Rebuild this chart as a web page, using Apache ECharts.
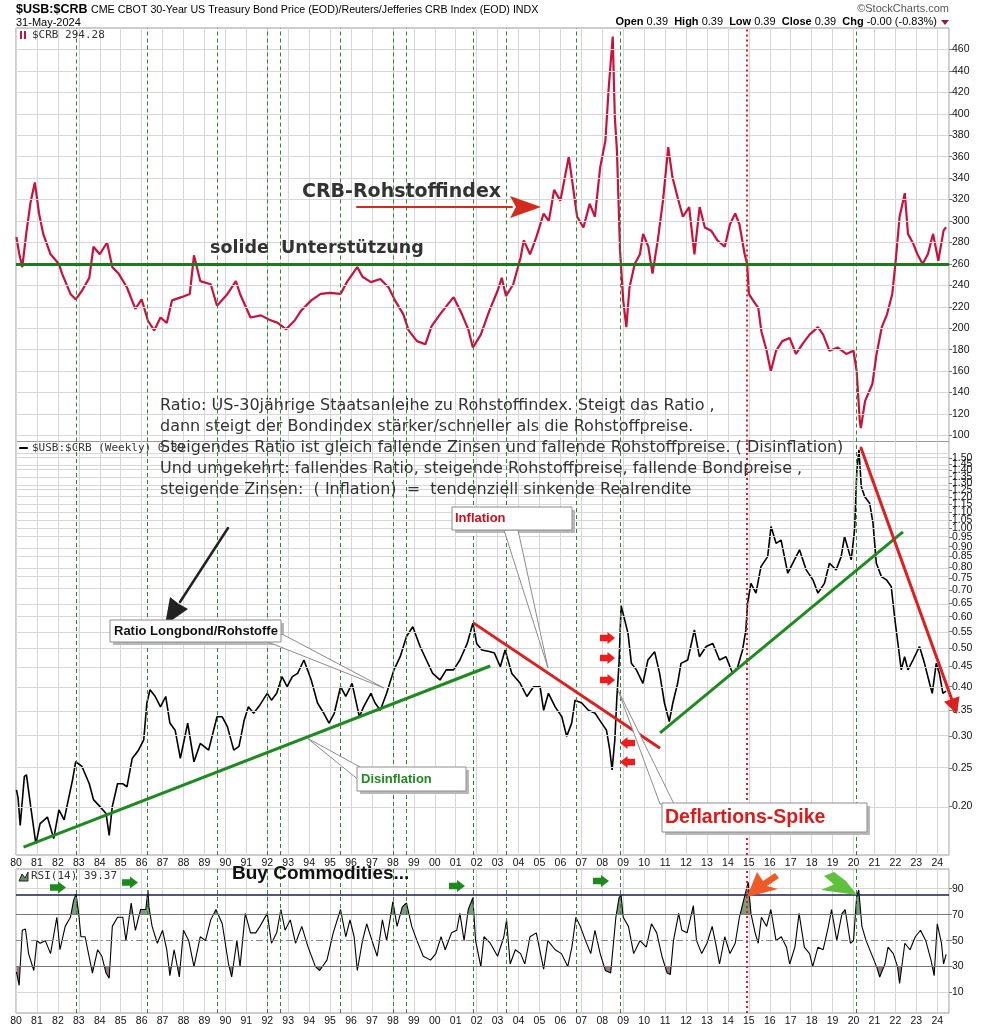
<!DOCTYPE html>
<html>
<head>
<meta charset="utf-8">
<script src="https://cdn.jsdelivr.net/npm/echarts@6/dist/echarts.min.js"></script>
<style>
html, body { margin: 0; padding: 0; background: #fff; }
#chart { width: 990px; height: 1029px; }
</style>
</head>
<body>
<div id="chart"></div>
<script>
// CRB index [year, value]
const crbPoints = [
  [1980.02,285],[1980.15,270],[1980.3,257],[1980.5,290],[1980.7,318],[1980.9,336],[1981.1,307],[1981.3,288],
  [1981.65,269],[1982.05,260],[1982.2,251],[1982.6,232],[1982.85,227],[1983.15,235],[1983.5,247],[1983.7,276],
  [1984.0,269],[1984.35,280],[1984.6,257],[1984.9,251],[1985.3,238],[1985.7,218],[1986.0,227],[1986.3,207],
  [1986.6,198],[1986.9,210],[1987.2,205],[1987.45,226],[1987.9,229],[1988.3,232],[1988.5,268],[1988.8,244],
  [1989.3,241],[1989.6,221],[1990.1,232],[1990.5,244],[1990.7,232],[1991.2,210],[1991.7,212],[1992.1,208],
  [1992.5,205],[1992.9,199],[1993.3,207],[1993.6,216],[1994.1,226],[1994.55,232],[1995.0,233],[1995.5,232],
  [1995.8,243],[1996.3,257],[1996.55,248],[1996.95,243],[1997.4,246],[1997.8,238],[1998.1,226],[1998.5,213],
  [1998.75,198],[1999.15,188],[1999.55,185],[1999.85,202],[2000.25,213],[2000.65,223],[2000.9,229],[2001.3,213],
  [2001.6,199],[2001.82,182],[2002.2,194],[2002.6,216],[2003.0,235],[2003.2,247],[2003.4,230],[2003.75,241],
  [2004.1,266],[2004.25,282],[2004.55,269],[2004.85,285],[2005.2,307],[2005.45,300],[2005.7,329],[2006.0,319],
  [2006.4,360],[2006.6,332],[2006.8,304],[2007.1,294],[2007.4,316],[2007.65,304],[2007.9,350],[2008.15,375],
  [2008.3,422],[2008.5,472],[2008.6,397],[2008.7,366],[2008.85,272],[2009.0,226],[2009.15,201],[2009.3,238],
  [2009.55,260],[2009.8,269],[2009.95,288],[2010.2,276],[2010.4,251],[2010.65,282],[2010.9,319],[2011.15,369],
  [2011.35,341],[2011.6,322],[2011.85,304],[2012.15,313],[2012.4,269],[2012.65,313],[2012.9,294],[2013.2,291],
  [2013.5,282],[2013.85,276],[2014.1,297],[2014.35,307],[2014.55,297],[2014.8,269],[2014.92,260],[2015.0,232],
  [2015.2,226],[2015.45,219],[2015.6,197],[2015.85,179],[2016.05,160],[2016.3,179],[2016.6,188],[2016.95,191],
  [2017.25,176],[2017.55,185],[2017.9,194],[2018.3,201],[2018.55,194],[2018.85,179],[2019.25,182],[2019.65,176],
  [2020.0,179],[2020.15,160],[2020.3,113],[2020.35,107],[2020.55,132],[2020.9,148],[2021.1,176],[2021.35,201],
  [2021.6,213],[2021.85,232],[2022.0,260],[2022.2,304],[2022.45,326],[2022.6,288],[2022.85,279],[2023.05,269],
  [2023.3,260],[2023.55,269],[2023.8,288],[2024.05,263],[2024.3,291],[2024.42,294.28]
];

// $USB:$CRB ratio, weekly close [year, ratio]
const ratioPoints = [
  [1980.02,0.22],[1980.1,0.21],[1980.2,0.179],[1980.4,0.238],[1980.5,0.24],[1980.7,0.2],[1980.95,0.161],
  [1981.15,0.181],[1981.5,0.188],[1981.8,0.166],[1982.05,0.196],[1982.3,0.185],[1982.5,0.208],[1982.7,0.233],
  [1982.85,0.259],[1983.15,0.252],[1983.5,0.228],[1983.7,0.208],[1984.0,0.2],[1984.3,0.192],[1984.45,0.169],
  [1984.6,0.2],[1984.85,0.228],[1985.1,0.228],[1985.3,0.224],[1985.55,0.264],[1985.85,0.277],[1986.1,0.294],
  [1986.25,0.364],[1986.4,0.393],[1986.65,0.378],[1986.9,0.356],[1987.15,0.378],[1987.35,0.324],[1987.6,0.311],
  [1987.85,0.264],[1988.2,0.324],[1988.5,0.259],[1988.8,0.288],[1989.2,0.277],[1989.6,0.336],[1989.85,0.336],
  [1990.1,0.317],[1990.4,0.277],[1990.65,0.283],[1990.9,0.33],[1991.1,0.356],[1991.35,0.343],[1991.65,0.36],
  [1992.0,0.385],[1992.2,0.37],[1992.45,0.385],[1992.7,0.424],[1992.95,0.4],[1993.2,0.424],[1993.45,0.432],
  [1993.75,0.467],[1994.1,0.416],[1994.4,0.364],[1994.7,0.343],[1994.95,0.324],[1995.2,0.343],[1995.5,0.4],
  [1995.75,0.378],[1996.05,0.408],[1996.4,0.336],[1996.6,0.356],[1996.95,0.385],[1997.15,0.364],[1997.4,0.349],
  [1997.7,0.385],[1998.05,0.441],[1998.35,0.476],[1998.65,0.535],[1998.95,0.566],[1999.3,0.505],[1999.6,0.467],
  [1999.9,0.432],[2000.25,0.416],[2000.55,0.441],[2000.9,0.441],[2001.2,0.467],[2001.55,0.514],[2001.82,0.578],
  [2002.0,0.514],[2002.25,0.495],[2002.65,0.49],[2002.85,0.486],[2003.13,0.449],[2003.36,0.495],[2003.68,0.432],
  [2004.08,0.408],[2004.4,0.378],[2004.72,0.4],[2005.03,0.4],[2005.2,0.349],[2005.43,0.385],[2005.75,0.356],
  [2006.07,0.336],[2006.3,0.3],[2006.54,0.324],[2006.7,0.37],[2007.02,0.364],[2007.34,0.349],[2007.66,0.343],
  [2007.97,0.324],[2008.2,0.311],[2008.36,0.277],[2008.47,0.247],[2008.6,0.294],[2008.7,0.378],[2008.8,0.458],
  [2008.9,0.64],[2009.07,0.589],[2009.23,0.545],[2009.39,0.458],[2009.63,0.441],[2009.94,0.408],[2010.18,0.467],
  [2010.5,0.49],[2010.74,0.432],[2010.97,0.364],[2011.2,0.327],[2011.37,0.364],[2011.6,0.408],[2011.76,0.458],
  [2012.08,0.467],[2012.4,0.556],[2012.64,0.476],[2012.96,0.505],[2013.28,0.514],[2013.6,0.467],[2013.91,0.476],
  [2014.23,0.432],[2014.47,0.449],[2014.7,0.495],[2014.86,0.556],[2014.94,0.649],[2015.1,0.728],[2015.34,0.688],
  [2015.58,0.802],[2015.9,0.85],[2016.06,1.012],[2016.3,0.918],[2016.54,0.935],[2016.86,0.772],[2017.1,0.818],
  [2017.42,0.884],[2017.74,0.787],[2018.06,0.743],[2018.3,0.688],[2018.61,0.728],[2018.85,0.818],[2019.17,0.787],
  [2019.41,0.85],[2019.57,0.955],[2019.89,0.834],[2020.05,0.992],[2020.16,1.405],[2020.26,1.578],[2020.37,1.276],
  [2020.53,1.204],[2020.77,1.158],[2020.93,1.032],[2021.09,0.818],[2021.33,0.757],[2021.57,0.743],[2021.8,0.715],
  [2021.96,0.6],[2022.12,0.514],[2022.28,0.441],[2022.44,0.476],[2022.6,0.441],[2022.84,0.467],[2023.15,0.505],
  [2023.39,0.458],[2023.63,0.408],[2023.76,0.385],[2023.95,0.458],[2024.1,0.432],[2024.27,0.385],[2024.42,0.39]
];

// RSI(14) of the ratio [year, rsi]
const rsiPoints = [
  [1980.02,26],[1980.15,15.6],[1980.3,58],[1980.45,59],[1980.6,40],[1980.85,27],[1981.0,50],[1981.15,48],
  [1981.4,50],[1981.65,40],[1981.95,68],[1982.1,43],[1982.35,61],[1982.6,68],[1982.75,81],[1982.87,86],
  [1983.0,70],[1983.1,53],[1983.3,53],[1983.65,25],[1983.9,43],[1984.1,38],[1984.3,25],[1984.45,21],
  [1984.6,61],[1984.85,68],[1985.1,68],[1985.25,50],[1985.5,79],[1985.7,58],[1985.95,74],[1986.2,74],
  [1986.3,89],[1986.35,76],[1986.5,61],[1986.75,48],[1987.0,58],[1987.2,43],[1987.35,23],[1987.55,43],
  [1987.8,22],[1988.0,58],[1988.25,50],[1988.5,30],[1988.8,53],[1989.05,50],[1989.3,66],[1989.55,74],
  [1989.85,63],[1990.15,32],[1990.3,22],[1990.55,50],[1990.7,30],[1990.95,71],[1991.2,56],[1991.45,56],
  [1991.65,61],[1992.0,71],[1992.2,48],[1992.45,56],[1992.65,74],[1992.85,58],[1993.1,66],[1993.35,48],
  [1993.65,61],[1993.95,45],[1994.3,30],[1994.5,27],[1994.85,35],[1995.15,56],[1995.5,74],[1995.75,53],
  [1995.95,66],[1996.15,53],[1996.3,27],[1996.55,50],[1996.75,63],[1997.0,50],[1997.25,38],[1997.5,66],
  [1997.7,50],[1998.0,80],[1998.2,61],[1998.45,76],[1998.65,79],[1998.9,61],[1999.15,50],[1999.45,38],
  [1999.8,35],[2000.05,40],[2000.3,53],[2000.5,43],[2000.8,56],[2001.05,58],[2001.2,71],[2001.4,50],
  [2001.6,74],[2001.82,83],[2001.95,50],[2002.2,30],[2002.35,53],[2002.65,48],[2003.0,38],[2003.3,53],
  [2003.43,66],[2003.6,32],[2003.85,43],[2004.1,40],[2004.3,32],[2004.55,53],[2004.85,56],[2005.2,28],
  [2005.4,50],[2005.75,43],[2006.05,40],[2006.35,30],[2006.55,45],[2006.74,68],[2006.95,61],[2007.2,50],
  [2007.45,40],[2007.65,58],[2007.9,40],[2008.15,27],[2008.4,25],[2008.65,68],[2008.8,83],[2008.9,85],
  [2009.0,68],[2009.25,61],[2009.5,40],[2009.8,50],[2010.1,45],[2010.35,63],[2010.6,56],[2010.85,38],
  [2011.1,25],[2011.25,24],[2011.4,50],[2011.65,71],[2011.8,58],[2012.05,56],[2012.35,77],[2012.5,50],
  [2012.75,40],[2013.0,48],[2013.25,61],[2013.45,45],[2013.6,32],[2013.85,53],[2014.1,40],[2014.35,48],
  [2014.55,68],[2014.75,81],[2014.97,95],[2015.1,71],[2015.3,56],[2015.45,48],[2015.6,68],[2015.85,61],
  [2016.05,74],[2016.3,50],[2016.55,53],[2016.8,45],[2016.95,32],[2017.2,45],[2017.4,71],[2017.65,45],
  [2017.9,40],[2018.05,30],[2018.3,45],[2018.55,43],[2018.8,61],[2018.95,74],[2019.2,50],[2019.45,71],
  [2019.6,74],[2019.85,48],[2020.0,50],[2020.15,84],[2020.25,89],[2020.4,61],[2020.6,50],[2020.85,40],
  [2021.1,30],[2021.25,22],[2021.5,32],[2021.65,45],[2021.9,40],[2022.1,30],[2022.2,17],[2022.45,48],
  [2022.7,43],[2022.95,53],[2023.2,58],[2023.45,50],[2023.7,35],[2023.85,23],[2024.0,63],[2024.2,48],
  [2024.3,32],[2024.42,39.37]
];

const crbTicks = [100,120,140,160,180,200,220,240,260,280,300,320,340,360,380,400,420,440,460];
const ratioTicks = [0.20,0.25,0.30,0.35,0.40,0.45,0.50,0.55,0.60,0.65,0.70,0.75,0.80,0.85,0.90,0.95,
  1.00,1.05,1.10,1.15,1.20,1.25,1.30,1.35,1.40,1.45,1.50,1.55];
const rsiTicks = [10,30,50,70,90];
const signalYears = [1982.87,1986.29,1989.6,1992.02,1992.64,1995.5,1998.0,1998.65,2001.82,2003.43,2006.74,2008.87,2020.14];
const turnYear = 2014.92;

var myChart = echarts.init(document.getElementById('chart'));

var FONT = '"Liberation Sans", Arial, sans-serif';
var DEJA = '"DejaVu Sans", sans-serif';
var gridColor = '#d6d6d6';
var lg = function(v) { return Math.log10(v); };

function xAxisFor(idx, showLabels) {
    return {
        type: 'value', gridIndex: idx, min: 1980, max: 2024.56, interval: 1,
        axisLine: { show: false }, axisTick: { show: false },
        axisLabel: {
            show: showLabels, margin: 3, fontSize: 10.5, color: '#111', fontFamily: FONT,
            showMaxLabel: false,
            formatter: function(v) { return Number.isInteger(v) ? String(v % 100).padStart(2, '0') : ''; }
        },
        splitLine: { show: true, lineStyle: { color: gridColor, width: 1 } }
    };
}

function yAxisFor(idx, min, max, ticks, fmt) {
    return {
        type: 'value', gridIndex: idx, position: 'right', min: min, max: max,
        axisLine: { show: false },
        splitLine: { show: false },
        axisTick: { show: true, customValues: ticks, length: 3, lineStyle: { color: '#777' } },
        axisLabel: { customValues: ticks, margin: 3, fontSize: 10.5, color: '#111', fontFamily: FONT, formatter: fmt }
    };
}

function vLines(years, style) {
    return years.map(function(y) { return { xAxis: y, lineStyle: style }; });
}
function hLines(vals, style) {
    return vals.map(function(v) { return { yAxis: v, lineStyle: style }; });
}

var greenDash = { color: '#2a8a2a', type: [4, 3], width: 1 };
var redDot = { color: '#e02020', type: [2, 3], width: 2 };
var light = { color: gridColor, type: 'solid', width: 1 };

function backdrop(idx, horiz) {
    return {
        type: 'line', xAxisIndex: idx, yAxisIndex: idx, data: [], z: 1, silent: true,
        markLine: {
            silent: true, symbol: 'none', label: { show: false }, animation: false,
            data: horiz.concat(vLines(signalYears, greenDash), vLines([turnYear], redDot))
        }
    };
}

// shaded zones of the RSI beyond a level (above 70 / below 30)
function rsiBand(level, above, color) {
    return {
        type: 'custom', xAxisIndex: 2, yAxisIndex: 2, data: rsiPoints, z: 2, silent: true, clip: true,
        renderItem: function(params, api) {
            if (params.dataIndex !== 0) return null;
            var shapes = [], cur = null, prevIn = false;
            for (var i = 0; i < rsiPoints.length; i++) {
                var p = rsiPoints[i];
                var inside = above ? p[1] > level : p[1] < level;
                if (i > 0 && inside !== prevIn) {
                    var q = rsiPoints[i - 1];
                    var t = q[0] + (p[0] - q[0]) * (level - q[1]) / (p[1] - q[1]);
                    var c = api.coord([t, level]);
                    if (prevIn) { cur.push(c); shapes.push(cur); cur = null; }
                    else { cur = [c]; }
                }
                if (inside) {
                    if (!cur) cur = [api.coord([p[0], level])];
                    cur.push(api.coord(p));
                }
                prevIn = inside;
            }
            if (cur) { cur.push(api.coord([rsiPoints[rsiPoints.length - 1][0], level])); shapes.push(cur); }
            return {
                type: 'group',
                children: shapes.map(function(pts) {
                    return { type: 'polygon', shape: { points: pts }, style: { fill: color } };
                })
            };
        }
    };
}

option = {
    backgroundColor: '#fff',
    animation: false,
    grid: [
        { left: 16, right: 41, top: 28, height: 413.5, show: true, borderColor: '#9a9a9a', borderWidth: 1 },
        { left: 16, right: 41, top: 441.5, height: 413.5, show: true, borderColor: '#9a9a9a', borderWidth: 1 },
        { left: 16, right: 41, top: 869, height: 144, show: true, borderColor: '#9a9a9a', borderWidth: 1 }
    ],
    xAxis: [ xAxisFor(0, false), xAxisFor(1, true), xAxisFor(2, true) ],
    yAxis: [
        yAxisFor(0, 94.4, 480, crbTicks),
        yAxisFor(1, -0.8213, 0.219, ratioTicks.map(lg), function(v) { return Math.pow(10, v).toFixed(2); }),
        yAxisFor(2, -5.75, 105.2, rsiTicks)
    ],
    series: [
        backdrop(0, hLines(crbTicks, light)),
        {
            name: '$CRB', type: 'line', xAxisIndex: 0, yAxisIndex: 0, data: crbPoints,
            showSymbol: false, symbol: 'none', z: 3,
            lineStyle: { color: '#c8123c', width: 2.2 },
            markLine: {
                silent: true, symbol: 'none', label: { show: false },
                data: [{ yAxis: 260, lineStyle: { color: '#1f7a1f', width: 3, type: 'solid' } }]
            }
        },
        backdrop(1, hLines(ratioTicks.map(lg), light)),
        {
            name: '$USB:$CRB', type: 'line', xAxisIndex: 1, yAxisIndex: 1,
            data: ratioPoints.map(function(p) { return [p[0], lg(p[1])]; }),
            showSymbol: false, symbol: 'none', z: 3,
            lineStyle: { color: '#000', width: 1.6 },
            markLine: {
                silent: true, symbol: 'none', label: { show: false },
                data: [
                    [{ coord: [1980.36, lg(0.158)], lineStyle: { color: '#1f8a1f', width: 3, type: 'solid' } }, { coord: [2002.65, lg(0.451)] }],
                    [{ coord: [2001.84, lg(0.579)], lineStyle: { color: '#dd1f1f', width: 3, type: 'solid' } }, { coord: [2010.76, lg(0.28)] }],
                    [{ coord: [2010.76, lg(0.306)], lineStyle: { color: '#1f8a1f', width: 3, type: 'solid' } }, { coord: [2022.36, lg(0.981)] }]
                ]
            }
        },
        backdrop(2, hLines([10, 90], light).concat([
            { yAxis: 85, lineStyle: { color: '#1c1c50', width: 1.5, type: 'solid' } },
            { yAxis: 70, lineStyle: { color: '#777', width: 1.2, type: 'solid' } },
            { yAxis: 30, lineStyle: { color: '#777', width: 1.2, type: 'solid' } },
            { yAxis: 50, lineStyle: { color: '#888', width: 1, type: [7, 3, 2, 3] } }
        ])),
        rsiBand(70, true, '#7d9b7d'),
        rsiBand(30, false, '#9c7c7c'),
        {
            name: 'RSI(14)', type: 'line', xAxisIndex: 2, yAxisIndex: 2, data: rsiPoints,
            showSymbol: false, symbol: 'none', z: 3,
            lineStyle: { color: '#000', width: 1.1 }
        }
    ],
    graphic: []
};

// --- annotation layer ----------------------------------------------------
function txt(x, y, s, font, fill, align) {
    return { type: 'text', x: x, y: y, z: 100, silent: true,
        style: { text: s, font: font, fill: fill || '#333', align: align || 'left', verticalAlign: 'middle',
                 textAlign: align || 'left', textVerticalAlign: 'middle' } };
}
function poly(points, fill, stroke) {
    return { type: 'polygon', z: 100, silent: true, shape: { points: points },
        style: { fill: fill, stroke: stroke || null, lineWidth: stroke ? 1 : 0 } };
}
function seg(x1, y1, x2, y2, color, w) {
    return { type: 'line', z: 100, silent: true, shape: { x1: x1, y1: y1, x2: x2, y2: y2 },
        style: { stroke: color, lineWidth: w, lineCap: 'round' } };
}
function box(x, y, w, h) {
    return [
        { type: 'rect', z: 99, silent: true, shape: { x: x + 3, y: y + 3, width: w, height: h }, style: { fill: '#b8b8b8' } },
        { type: 'rect', z: 100, silent: true, shape: { x: x, y: y, width: w, height: h }, style: { fill: '#fff', stroke: '#8c8c8c', lineWidth: 1 } }
    ];
}
function arrowRight(x, cy, w, h, color) {
    var s = h * 0.27, hx = x + w * 0.5;
    return poly([[x, cy - s], [hx, cy - s], [hx, cy - h / 2], [x + w, cy], [hx, cy + h / 2], [hx, cy + s], [x, cy + s]], color);
}
function arrowLeft(x, cy, w, h, color) {
    var s = h * 0.27, hx = x + w * 0.5;
    return poly([[x + w, cy - s], [hx, cy - s], [hx, cy - h / 2], [x, cy], [hx, cy + h / 2], [hx, cy + s], [x + w, cy + s]], color);
}

var g = [];
// header
g.push(txt(16, 10, '$USB:$CRB', 'bold 12.5px ' + FONT, '#000'));
g.push(txt(91, 10, 'CME CBOT 30-Year US Treasury Bond Price (EOD)/Reuters/Jefferies CRB Index (EOD) INDX', '10.7px ' + FONT, '#000'));
g.push(txt(16, 23, '31-May-2024', '11px ' + FONT, '#000'));
g.push(txt(949, 9, '\u00a9StockCharts.com', '11px ' + FONT, '#555', 'right'));
g.push({ type: 'text', x: 937, y: 22, z: 100, silent: true,
    style: { text: '{b|Open} 0.39  {b|High} 0.39  {b|Low} 0.39  {b|Close} 0.39  {b|Chg} -0.00 (-0.83%)',
             font: '11px ' + FONT, fill: '#000', align: 'right', verticalAlign: 'middle', textAlign: 'right', textVerticalAlign: 'middle',
             rich: { b: { font: 'bold 11px ' + FONT, fill: '#000' } } } });
g.push(poly([[941, 20], [949, 20], [945, 25]], '#8a1a4a'));

// panel legends
g.push(poly([[20, 31], [22, 31], [22, 39], [20, 39]], '#c8123c'));
g.push(poly([[24, 31], [26, 31], [26, 39], [24, 39]], '#c8123c'));
g.push(txt(32, 35, '$CRB 294.28', '11px "DejaVu Sans Mono", monospace', '#333'));
g.push(seg(20, 448, 27, 448, '#000', 2));
g.push(txt(32, 448, '$USB:$CRB (Weekly) 0.39', '11px "DejaVu Sans Mono", monospace', '#333'));
g.push(poly([[19, 881], [22, 874], [25, 878], [28, 872], [28, 881]], '#6b8a6b', '#222'));
g.push(txt(31, 876, 'RSI(14) 39.37', '11px "DejaVu Sans Mono", monospace', '#333'));

// top panel notes
g.push(txt(302, 192, 'CRB-Rohstoffindex', 'bold 19px ' + DEJA, '#333'));
g.push(seg(357, 207, 512, 207, '#d42a1e', 2));
g.push(poly([[510, 196], [541, 207], [510, 218], [516, 207]], '#d42a1e'));
g.push(txt(210, 248, 'solide  Unterst\u00fctzung', 'bold 17.5px ' + DEJA, '#333'));

// explanation block
var notes = [
    'Ratio: US-30j\u00e4hrige Staatsanleihe zu Rohstoffindex. Steigt das Ratio ,',
    'dann steigt der Bondindex st\u00e4rker/schneller als die Rohstoffpreise.',
    'Steigendes Ratio ist gleich fallende Zinsen und fallende Rohstoffpreise. ( Disinflation)',
    'Und umgekehrt: fallendes Ratio, steigende Rohstoffpreise, fallende Bondpreise ,',
    'steigende Zinsen:  ( Inflation)  =  tendenziell sinkende Realrendite'
];
[406, 427, 448, 469, 490].forEach(function(y, i) {
    g.push(txt(160, y, notes[i], '16px ' + DEJA, '#333'));
});

// middle panel callouts
g.push(seg(228, 528, 180, 602, '#222', 2.5));
g.push(poly([[165, 625], [170, 597], [179, 604], [188, 609]], '#222'));
g.push(poly([[268, 642], [282, 634], [384, 688]], '#fff', '#8c8c8c'));
g = g.concat(box(110, 620, 171, 22));
g.push(txt(114, 631, 'Ratio Longbond/Rohstoffe', 'bold 13px ' + FONT, '#111'));

g.push(poly([[307, 738], [360, 767], [360, 781]], '#fff', '#8c8c8c'));
g = g.concat(box(357, 767, 109, 24));
g.push(txt(361, 779, 'Disinflation', 'bold 13px ' + FONT, '#1f8a1f'));

g.push(poly([[504, 530], [518, 530], [548, 668]], '#fff', '#8c8c8c'));
g = g.concat(box(452, 507, 120, 23));
g.push(txt(455, 518.5, 'Inflation', 'bold 13px ' + FONT, '#cc1020'));

g.push(poly([[618, 690], [660, 804], [674, 804]], '#fff', '#8c8c8c'));
g = g.concat(box(662, 803, 205, 29));
g.push(txt(665, 817.5, 'Deflartions-Spike', 'bold 19.5px ' + FONT, '#dd1a1a'));

[638, 658, 680].forEach(function(cy) { g.push(arrowRight(600, cy, 15, 12, '#ee1c1c')); });
[743, 762].forEach(function(cy) { g.push(arrowLeft(620, cy, 15, 12, '#ee1c1c')); });

// falling ratio arrow since 2020
g.push(seg(861, 448, 952, 700, '#dd1f1f', 3));
g.push(poly([[957, 714], [944, 701.7], [959.5, 696.3]], '#dd1f1f'));

// RSI panel notes
g.push(txt(232, 874, 'Buy Commodities...', 'bold 19px ' + FONT, '#111'));
[[50, 887.5], [122, 882.5], [449, 886], [593, 881]].forEach(function(p) {
    g.push(arrowRight(p[0], p[1], 16, 12, '#1d8a1d'));
});
g.push(poly([[747, 897], [757, 872], [763, 881], [775, 873], [779, 878], [767, 886], [778, 889]], '#f05a28'));
g.push(poly([[857, 895], [821, 890], [834, 884.5], [824, 876], [834, 872], [846, 881]], '#5ec23c'));

option.graphic = g;

myChart.setOption(option);
window.addEventListener('resize', function() { myChart.resize(); });
</script>
</body>
</html>
